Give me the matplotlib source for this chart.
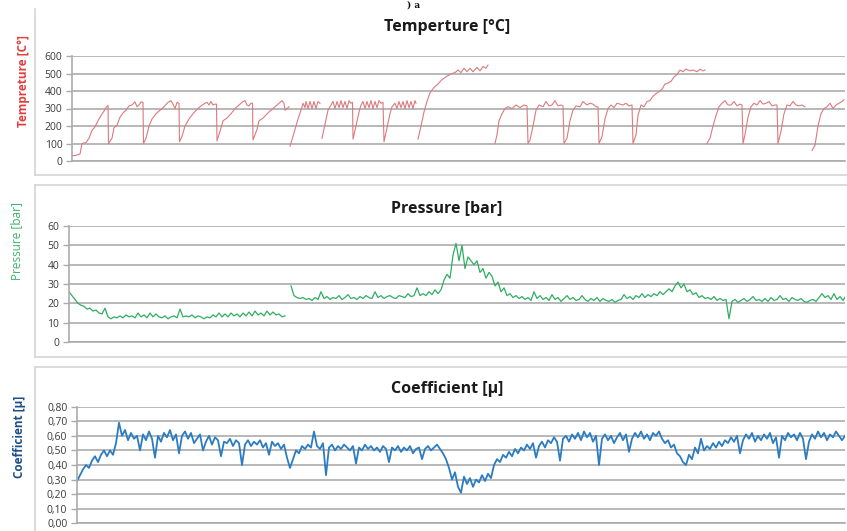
import numpy as np
import matplotlib
matplotlib.use("Agg")
import matplotlib.pyplot as plt
from matplotlib.lines import Line2D

nan = float("nan")

# ---------------- Temperature (time, value); nan = gap in the record ----------------
temp_time = [0,4,8,10,14,17,20,23,26,29,32,34,36,36.5,
             40,42,45,48,51,54,57,60,63,65,67,69,71,71.5,
             74,77,80,84,88,92,96,99,101,103,105,107,107.5,
             110,113,117,121,125,129,133,135,137,139,141,143,144.5,145,
             148,151,155,159,163,167,171,173,175,177,179,180.5,181,
             185,187,191,196,201,206,210,212,213,215,217,217.5,
             218,222,226,229,231,233,234,236,238,240,242,244,246,248,249,
             250,253,256,259,261,263,265,267,269,271,273,275,277,279,280.5,281,284,287,289,291,293,295,297,
             299,301,303,305,307,309,311,312,315,318,320,323,325,327,329,331,333,335,337,339,341,343,344,345,
             346,349,352,355,358,362,366,370,375,380,383,386,389,392,395,398,401,405,408,411,414,416,419,
             423,425,427,430,433,436,440,444,448,452,455,456,458,461,464,467,471,474,477,480,483,486,489,491,
             492,495,498,501,504,508,511,515,518,521,524,526,527,530,533,536,539,542,545,548,551,554,557,560,
             561,564,566,569,572,575,578,581,584,587,590,593,596,599,602,605,608,611,614,618,621,625,628,631,633,634,
             635,638,641,644,647,650,653,656,659,662,665,668,670,671,673,676,679,682,685,688,691,694,697,700,703,705,
             706,709,712,715,718,721,724,727,730,733,736,
             740,743,746,749,752,755,758,761,764,767,770,772]
temp_values = [30,32,40,100,105,130,175,195,230,260,285,305,318,100,
               130,190,205,250,275,290,315,320,338,310,320,338,335,100,
               130,200,240,270,290,310,335,345,325,300,335,330,110,
               140,200,240,270,295,315,330,335,320,340,320,325,325,115,
               170,230,245,270,300,320,340,345,320,315,330,330,120,
               180,230,245,275,300,325,345,330,290,300,310,nan,
               85,160,240,290,330,305,340,300,340,300,340,300,340,330,nan,
               130,210,290,320,340,300,340,305,345,305,340,300,345,330,335,125,200,280,320,340,300,340,305,
               345,300,340,305,345,330,335,110,190,270,310,330,300,340,305,340,300,345,305,340,300,345,330,nan,
               125,200,280,340,390,420,440,465,485,500,505,520,505,530,510,530,510,535,515,540,530,548,nan,
               100,150,230,270,300,310,300,320,305,320,315,100,120,200,290,320,310,340,315,320,345,315,320,315,
               100,130,230,290,315,310,340,320,330,325,310,310,100,140,240,300,320,305,330,325,320,330,315,320,
               100,150,260,320,310,340,345,370,385,395,410,440,445,455,480,495,520,510,525,515,520,510,525,515,520,nan,
               100,130,200,260,310,330,345,320,320,340,315,325,320,100,150,250,310,330,320,345,325,330,340,315,320,320,
               100,170,270,320,315,340,320,315,320,310,nan,
               60,90,200,270,300,310,330,300,320,330,340,350]

# ---------------- Pressure, sampled every 3 time units; nan = gap ----------------
pressure_step = 3
pressure_values = [26,24,22,20,19,18.5,17,17.5,16,16.5,15,14.5,17.5,13,12,13,12.5,13.5,12.5,14,
                   13,13.5,12.5,15,13,14,12.5,15,13,14.5,13,12.5,13.5,12,13,13.5,12.5,17,13,13.5,
                   13,14,12.5,13.5,13,12,13,12.5,14,13,15,13,14.5,13,15,13.5,14.5,13,15,13.5,
                   15.5,13.5,16,14,15,13.5,16,14,15.5,14,14.5,13,13.5,
                   nan,
                   29,24,23,22.5,23,22,22.5,21.5,23,22,26,22.5,23.5,22,23,22.5,24,22,23,24.5,
                   22.5,23,22,23.5,22.5,24,23,22.5,26,23,24,22.5,23.5,24,23,22.5,24,23.5,23,25,
                   23.5,24,28,24,25,24,26,24.5,27,25,27,32,35,33,45,51,42,50,38,44,
                   42,40,42,36,38,33,36,34,29,31,26,28,24,25,23,24,22.5,23.5,22,23,
                   21.5,26,22.5,24,22,23,21.5,24.5,22,23,21,22.5,24,22,23,21.5,22,24,22,21,
                   22.5,21.5,23,21,22.5,21.5,21,22,20.5,21.5,22,24.5,22.5,23.5,22,24,23,25,23,24.5,
                   23.5,25,24,26,24.5,26,27.5,26,29,31,28,30,26,27,24.5,25.5,23,24,22.5,23,
                   22,23.5,21.5,22.5,21.5,22,12,21,22,20.5,21.5,22.5,21,22,23.5,21.5,22,21,22.5,21,
                   23,21.5,22,24,22,22.5,21,23,22,21.5,22.5,21,20.5,21.5,22,21,23,25,23,24,
                   22,25,22,23.5,21.5,24]

# ---------------- Friction coefficient, sampled every 3 time units ----------------
coef_step = 3
coef_values = [0.29,0.33,0.37,0.40,0.38,0.43,0.46,0.42,0.47,0.50,
               0.46,0.50,0.47,0.55,0.69,0.60,0.64,0.57,0.62,0.58,
               0.60,0.50,0.61,0.57,0.63,0.58,0.45,0.60,0.56,0.62,
               0.59,0.64,0.57,0.61,0.48,0.60,0.63,0.58,0.62,0.55,
               0.58,0.61,0.50,0.56,0.60,0.54,0.59,0.57,0.46,0.56,
               0.55,0.58,0.53,0.57,0.55,0.40,0.54,0.57,0.53,0.56,
               0.54,0.57,0.52,0.55,0.47,0.56,0.53,0.55,0.51,0.54,
               0.45,0.38,0.44,0.50,0.48,0.53,0.51,0.54,0.52,0.63,
               0.53,0.51,0.55,0.33,0.52,0.54,0.50,0.53,0.51,0.54,
               0.52,0.50,0.53,0.41,0.52,0.50,0.54,0.51,0.53,0.50,
               0.52,0.49,0.53,0.51,0.42,0.52,0.50,0.53,0.49,0.52,
               0.50,0.53,0.48,0.51,0.52,0.44,0.51,0.53,0.50,0.52,
               0.54,0.51,0.48,0.44,0.38,0.30,0.35,0.25,0.21,0.32,
               0.27,0.31,0.25,0.30,0.28,0.33,0.29,0.34,0.31,0.40,
               0.44,0.42,0.47,0.45,0.49,0.46,0.51,0.48,0.52,0.50,
               0.54,0.51,0.55,0.45,0.53,0.56,0.52,0.57,0.55,0.59,
               0.56,0.43,0.58,0.60,0.56,0.61,0.58,0.62,0.57,0.63,
               0.59,0.62,0.56,0.60,0.40,0.58,0.61,0.57,0.60,0.55,
               0.59,0.62,0.57,0.61,0.49,0.58,0.62,0.59,0.63,0.58,
               0.61,0.57,0.62,0.60,0.63,0.58,0.55,0.57,0.52,0.54,
               0.48,0.46,0.42,0.40,0.47,0.44,0.52,0.48,0.58,0.50,
               0.53,0.51,0.55,0.52,0.56,0.53,0.57,0.55,0.59,0.56,
               0.60,0.48,0.57,0.61,0.58,0.62,0.56,0.60,0.57,0.61,
               0.58,0.62,0.55,0.59,0.45,0.60,0.57,0.62,0.59,0.61,
               0.57,0.62,0.58,0.44,0.56,0.61,0.58,0.63,0.59,0.62,
               0.57,0.61,0.59,0.63,0.60,0.57,0.60]

temp_ticks = [0, 100, 200, 300, 400, 500, 600]
pressure_ticks = [0, 10, 20, 30, 40, 50, 60]
coef_ticks = [0.0, 0.1, 0.2, 0.3, 0.4, 0.5, 0.6, 0.7, 0.8]
coef_ticklabels = ["0,00", "0,10", "0,20", "0,30", "0,40", "0,50", "0,60", "0,70", "0,80"]

titles = ["Temperture [°C]", "Pressure [bar]", "Coefficient [µ]"]
ylabels = ["Tempreture [C°]", "Pressure [bar]", "Coefficient [µ]"]

# ---------------- figure ----------------
plt.rcParams['font.family'] = ['Open Sans', 'DejaVu Sans']
W, H = 847, 531
fig = plt.figure(figsize=(W / 100, H / 100), dpi=100)

def fx(px):
    return px / W

def fy(py):
    return 1 - py / H

grid_c = "#ababab"
tick_c = "#3a3a3a"
box_c = "#d4d4d4"

# panel frames
for (top, bottom, draw_top) in [(9, 175, False), (185, 357, True), (367, 540, True)]:
    fig.add_artist(Line2D([fx(35), fx(35)], [fy(top), fy(bottom)], color=box_c, lw=1.2))
    if draw_top:
        fig.add_artist(Line2D([fx(35), 1.0], [fy(top), fy(top)], color=box_c, lw=1.2))
    if bottom < H:
        fig.add_artist(Line2D([fx(35), 1.0], [fy(bottom), fy(bottom)], color=box_c, lw=1.2))

def make_axes(left_px, top_px, bottom_px, right_px=845):
    ax = fig.add_axes([fx(left_px), fy(bottom_px), fx(right_px - left_px), (bottom_px - top_px) / H])
    for s in ["top", "right"]:
        ax.spines[s].set_visible(False)
    for s in ["left", "bottom"]:
        ax.spines[s].set_color(grid_c)
        ax.spines[s].set_linewidth(1.2)
    ax.set_xticks([])
    ax.tick_params(axis="y", length=4, width=1.0, color=grid_c, labelsize=7.5,
                   labelcolor=tick_c, pad=3)
    ax.grid(axis="y", color=grid_c, lw=1.2)
    ax.set_axisbelow(True)
    ax.patch.set_alpha(0)
    return ax

# Temperature
ax1 = make_axes(72, 56, 161)
ax1.plot(temp_time, temp_values, color="#dc7a7e", lw=0.8)
ax1.set_ylim(0, 600)
ax1.set_yticks(temp_ticks)
ax1.set_xlim(0, 773)

# Pressure
ax2 = make_axes(69, 226, 342)
p_time = np.arange(len(pressure_values)) * pressure_step
ax2.plot(p_time, pressure_values, color="#2fae62", lw=0.9)
ax2.set_ylim(0, 60)
ax2.set_yticks(pressure_ticks)
ax2.set_xlim(0, 776)

# Coefficient
ax3 = make_axes(77, 406.7, 523.3)
c_time = np.arange(len(coef_values)) * coef_step
ax3.plot(c_time, coef_values, color="#2b7cc1", lw=1.3)
ax3.set_ylim(0, 0.8)
ax3.set_yticks(coef_ticks)
ax3.set_yticklabels(coef_ticklabels)
ax3.set_xlim(0, 768)

# titles
for t, ypx in zip(titles, [27, 208, 389]):
    fig.text(fx(447), fy(ypx), t, ha="center", va="center", fontsize=11.5, fontweight="bold",
             color="#1a1a1a")

# y labels
ylab_colors = ["#e0403f", "#3cb36b", "#1f4e86"]
ylab_pos = [(23, 81), (17, 241), (20, 437)]
ylab_weight = ["bold", "normal", "bold"]
for lab, c, (xp, yp), w in zip(ylabels, ylab_colors, ylab_pos, ylab_weight):
    fig.text(fx(xp), fy(yp), lab, rotation=90, ha="center", va="center", fontsize=8.5,
             fontweight=w, color=c)

# small caption fragment at the very top
fig.text(fx(414), fy(0.5), ") a", ha="center", va="top", fontsize=6.5, fontweight="bold",
         family=["DejaVu Serif"], color="#111111")

fig.savefig("out.png", dpi=100)
